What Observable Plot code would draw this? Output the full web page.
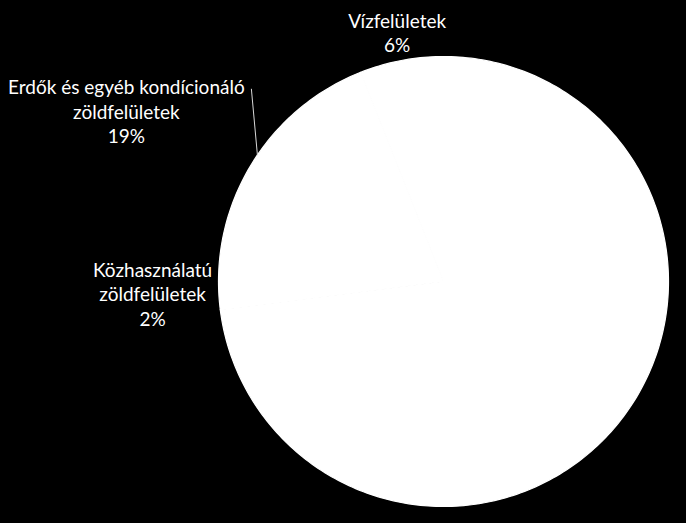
<!DOCTYPE html>
<html>
<head>
<meta charset="utf-8">
<script src="https://cdn.jsdelivr.net/npm/d3@7"></script>
<script src="https://cdn.jsdelivr.net/npm/@observablehq/plot@0.6"></script>
<style>
  html, body { margin: 0; padding: 0; background: #000; }
  #chart { width: 686px; height: 523px; overflow: hidden; }
</style>
</head>
<body>
<div id="chart"></div>
<script>
// ---- data ----
const categories = ["Egyéb területek", "Közhasználatú zöldfelületek", "Erdők és egyéb kondícionáló zöldfelületek", "Vízfelületek"];
const values = [73, 2, 19, 6];
const labelLines = ["", "Közhasználatú\nzöldfelületek", "Erdők és egyéb kondícionáló\nzöldfelületek", "Vízfelületek"];
const showLabel = [false, true, true, true];
// ---- layout (label placement) ----
const labelRadius = [1.2, 1.3, 1.5, 1.1];
const labelDx = [0, 1, -38, 0];
const labelDy = [0, -6.5, 19, -6];
const leader = [false, false, true, false];
const leaderEndDx = [0, 0, 87, 0];
const leaderEndDy = [0, 0, -3, 0];

const W = 686, H = 523;
const mL = 218, mR = 18, mT = 56, mB = 17;
const pxPerUnit = (W - mL - mR) / 2;

const arcs = d3.pie().sort(null).value(d => d)(values);

// slice polygons
const slicePts = [];
arcs.forEach((a, i) => {
  const n = Math.max(2, Math.ceil((a.endAngle - a.startAngle) / (Math.PI / 180)));
  slicePts.push({cat: categories[i], x: 0, y: 0});
  for (let k = 0; k <= n; k++) {
    const t = a.startAngle + (a.endAngle - a.startAngle) * k / n;
    slicePts.push({cat: categories[i], x: Math.sin(t), y: Math.cos(t)});
  }
  slicePts.push({cat: categories[i], x: 0, y: 0});
});

// labels
const labels = [];
const leaders = [];
arcs.forEach((a, i) => {
  if (!showLabel[i]) return;
  const mid = (a.startAngle + a.endAngle) / 2;
  const r = labelRadius[i];
  const lx = Math.sin(mid) * r, ly = Math.cos(mid) * r;
  labels.push({
    x: lx, y: ly, dx: labelDx[i], dy: labelDy[i],
    text: labelLines[i] + "\n" + Math.round(values[i] / d3.sum(values) * 100) + "%"
  });
  if (leader[i]) {
    leaders.push({
      x1: Math.sin(mid), y1: Math.cos(mid),
      x2: lx + leaderEndDx[i] / pxPerUnit,
      y2: ly - leaderEndDy[i] / pxPerUnit
    });
  }
});

const chart = Plot.plot({
  width: W, height: H,
  marginLeft: mL, marginRight: mR, marginTop: mT, marginBottom: mB,
  x: {domain: [-1, 1], axis: null},
  y: {domain: [-1, 1], axis: null},
  style: {background: "#000", fontFamily: "Lato, 'Open Sans', sans-serif"},
  marks: [
    Plot.line(slicePts, {x: "x", y: "y", z: "cat", fill: "#ffffff", stroke: "#ffffff", strokeWidth: 1.2, strokeLinejoin: "round", curve: "linear"}),
    Plot.link(leaders, {x1: "x1", y1: "y1", x2: "x2", y2: "y2", stroke: "#d9d9d9", strokeWidth: 1}),
    Plot.text(labels, {x: "x", y: "y", text: "text", fill: "#ffffff", fontSize: 19, lineHeight: 1.29, textAnchor: "middle"})
  ]
});
document.getElementById("chart").appendChild(chart);
// apply per-label pixel offsets
d3.select(chart).selectAll("text").each(function(_, i) {
  const lab = labels[i];
  if (!lab) return;
  const t = d3.select(this);
  const tr = t.attr("transform") || "";
  t.attr("transform", tr + ` translate(${lab.dx},${lab.dy})`);
});
</script>
</body>
</html>
